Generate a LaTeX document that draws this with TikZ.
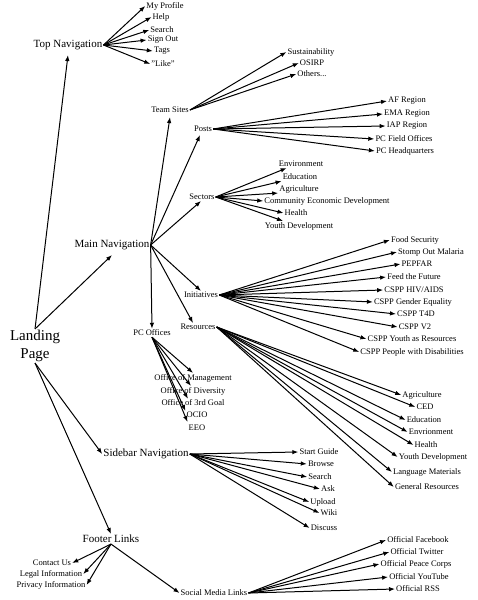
\documentclass[tikz,border=0pt]{standalone}
\usepackage{fontspec}
\setmainfont{Liberation Serif}
\usetikzlibrary{arrows.meta, positioning}

\begin{document}
\begin{tikzpicture}[
    x=1pt, y=-1pt,
    every node/.style={inner sep=1pt},
    rootnode/.style={align=center, font=\fontsize{15}{18}\selectfont},
    topic/.style={font=\fontsize{11}{13}\selectfont},
    leaf/.style={font=\fontsize{8.5}{10}\selectfont},
    arrow/.style={-{Latex[length=6pt, width=4.5pt]}, line width=1pt}
]
\useasboundingbox (0,0) rectangle (478,600);

% root and first level
\node[rootnode] (landing) at (35,346) {Landing\\Page};
\node[topic] (top) at (68,45) {Top Navigation};
\node[topic] (main) at (112,245) {Main Navigation};
\node[topic] (sidebar) at (146,454) {Sidebar Navigation};
\node[topic] (footer) at (111,539) {Footer Links};

\draw[arrow] (landing.north) -- ([yshift=-4pt]top.south);
\draw[arrow] (landing.north) -- ([yshift=-4pt]main.south);
\draw[arrow] (landing.south) -- (sidebar.west);
\draw[arrow] (landing.south) -- (footer.north);

% top navigation
\node[leaf] (profile) at (165,6) {My Profile};
\node[leaf] (help) at (161,17) {Help};
\node[leaf] (tsearch) at (162,30) {Search};
\node[leaf] (signout) at (163,40) {Sign Out};
\node[leaf] (tags) at (162,51) {Tags};
\node[leaf] (like) at (163,64) {"Like"};

\foreach \n in {profile, help, tsearch, signout, tags, like}
    \draw[arrow] (top.east) -- (\n.west);

% main navigation
\node[leaf] (teams) at (170,110) {Team Sites};
\node[leaf] (posts) at (203,129) {Posts};
\node[leaf] (sectors) at (202,197) {Sectors};
\node[leaf] (init) at (201,295) {Initiatives};
\node[leaf] (res) at (198,327) {Resources};
\node[leaf] (pcoff) at (152,333) {PC Offices};

\draw[arrow] (main.east) -- ([yshift=-3pt]teams.south);
\draw[arrow] (main.east) -- ([xshift=-3pt, yshift=-2pt]posts.south);
\draw[arrow] (main.east) -- ([xshift=-1pt]sectors.south);
\draw[arrow] (main.east) -- (init.north);
\draw[arrow] (main.east) -- ([xshift=-5pt]res.north);
\draw[arrow] (main.east) -- (pcoff.north);

% team sites
\node[leaf] (sustain) at (311,52) {Sustainability};
\node[leaf] (osirp) at (312,63) {OSIRP};
\node[leaf] (others) at (312,74) {Others...};

\foreach \n in {sustain, osirp, others}
    \draw[arrow] (teams.east) -- (\n.west);

% posts
\node[leaf] (afr) at (407,101) {AF Region};
\node[leaf] (ema) at (407,114) {EMA Region};
\node[leaf] (iap) at (407,126) {IAP Region};
\node[leaf] (field) at (404,139) {PC Field Offices};
\node[leaf] (hq) at (405,151) {PC Headquarters};

\foreach \n in {afr, ema, iap, field, hq}
    \draw[arrow] (posts.east) -- (\n.west);

% sectors
\node[leaf] (env) at (301,164) {Environment};
\node[leaf] (edu) at (300,177) {Education};
\node[leaf] (agri) at (299,189) {Agriculture};
\node[leaf] (ced) at (327,201) {Community Economic Development};
\node[leaf] (health) at (296,213) {Health};
\node[leaf] (ydev) at (299,226) {Youth Development};

\draw[arrow] (sectors.east) -- ([xshift=9pt]env.south west);
\draw[arrow] (sectors.east) -- (edu.south west);
\draw[arrow] (sectors.east) -- ([yshift=1pt]agri.south west);
\draw[arrow] (sectors.east) -- (ced.west);
\draw[arrow] (sectors.east) -- (health.west);
\draw[arrow] (sectors.east) -- ([xshift=-16pt]ydev.north);

% initiatives
\node[leaf] (food) at (415,240) {Food Security};
\node[leaf] (malaria) at (431,252) {Stomp Out Malaria};
\node[leaf] (pepfar) at (417,264) {PEPFAR};
\node[leaf] (future) at (414,277) {Feed the Future};
\node[leaf] (hiv) at (414,290) {CSPP HIV/AIDS};
\node[leaf] (gender) at (413,302) {CSPP Gender Equality};
\node[leaf] (tfd) at (416,314) {CSPP T4D};
\node[leaf] (vtwo) at (415,327) {CSPP V2};
\node[leaf] (youth) at (412,339) {CSPP Youth as Resources};
\node[leaf] (disab) at (412,352) {CSPP People with Disabilities};

\foreach \n in {food, malaria, pepfar, future, hiv, gender, tfd, vtwo, youth, disab}
    \draw[arrow] (init.east) -- (\n.west);

% resources
\node[leaf] (ragri) at (422,395) {Agriculture};
\node[leaf] (rced) at (425,407) {CED};
\node[leaf] (redu) at (424,420) {Education};
\node[leaf] (renv) at (431,432) {Envrionment};
\node[leaf] (rhealth) at (426,445) {Health};
\node[leaf] (rydev) at (433,457) {Youth Development};
\node[leaf] (lang) at (427,472) {Language Materials};
\node[leaf] (general) at (427,487) {General Resources};

\foreach \n in {ragri, rced, redu, renv, rhealth, rydev, lang, general}
    \draw[arrow] (res.east) -- (\n.west);

% pc offices
\node[leaf] (mgmt) at (193,378) {Office of Management};
\node[leaf] (divers) at (193,391) {Office of Diversity};
\node[leaf] (goal) at (193,403) {Office of 3rd Goal};
\node[leaf] (ocio) at (197,415) {OCIO};
\node[leaf] (eeo) at (197,428) {EEO};

\draw[arrow] (pcoff.south) -- (mgmt.north);
\draw[arrow] (pcoff.south) -- ([xshift=-2pt]divers.north);
\draw[arrow] (pcoff.south) -- ([xshift=-5pt]goal.north);
\draw[arrow] (pcoff.south) -- (ocio.north west);
\draw[arrow] (pcoff.south) -- ([yshift=2pt]eeo.north west);

% sidebar navigation
\node[leaf] (guide) at (319,452) {Start Guide};
\node[leaf] (browse) at (321,464) {Browse};
\node[leaf] (ssearch) at (320,477) {Search};
\node[leaf] (ask) at (328,489) {Ask};
\node[leaf] (upload) at (323,502) {Upload};
\node[leaf] (wiki) at (329,513) {Wiki};
\node[leaf] (discuss) at (324,528) {Discuss};

\foreach \n in {guide, browse, ssearch, ask, upload, wiki, discuss}
    \draw[arrow] (sidebar.east) -- (\n.west);

% footer links
\node[leaf] (contact) at (52,563) {Contact Us};
\node[leaf] (legal) at (51,574) {Legal Information};
\node[leaf] (privacy) at (51,585) {Privacy Information};
\node[leaf] (social) at (214,593) {Social Media Links};

\foreach \n in {contact, legal, privacy}
    \draw[arrow] (footer.south) -- (\n.east);
\draw[arrow] (footer.south) -- (social.west);

% social media
\node[leaf] (fb) at (418,540) {Official Facebook};
\node[leaf] (tw) at (417,552) {Official Twitter};
\node[leaf] (pc) at (416,564) {Official Peace Corps};
\node[leaf] (yt) at (419,577) {Official YouTube};
\node[leaf] (rss) at (418,589) {Official RSS};

\foreach \n in {fb, tw, pc, yt, rss}
    \draw[arrow] (social.east) -- (\n.west);

\end{tikzpicture}
\end{document}
